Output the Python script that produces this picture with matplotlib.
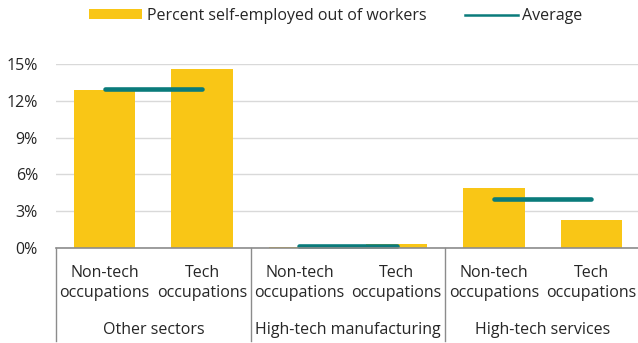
import matplotlib
matplotlib.use("Agg")
import matplotlib.pyplot as plt
from matplotlib.patches import Patch
from matplotlib.lines import Line2D
from matplotlib.transforms import blended_transform_factory

plt.rcParams['font.family'] = ['Open Sans', 'DejaVu Sans']

groups = ["Other sectors", "High-tech manufacturing", "High-tech services"]
occupations = ["Non-tech\noccupations", "Tech\noccupations"]
self_employed = [12.9, 14.6, 0.1, 0.3, 4.9, 2.3]   # percent, per group: non-tech, tech
averages = [13.0, 0.2, 4.0]
yticks = [0, 3, 6, 9, 12, 15]

YELLOW = "#F9C616"
TEAL = "#0A7B7B"
TEXT = "#262626"
GRID = "#D9D9D9"
AXIS = "#8C8C8C"
FS = 11.5

fig = plt.figure(figsize=(6.38, 3.43), dpi=100)
ax = fig.add_axes([56 / 638, 95 / 343, 584 / 638, 184 / 343])

x = list(range(len(self_employed)))
ax.bar(x, self_employed, width=0.63, color=YELLOW, zorder=2)

for g, avg in enumerate(averages):
    ax.plot([2 * g, 2 * g + 1], [avg, avg], color=TEAL, lw=3.3,
            solid_capstyle="round", zorder=3, clip_on=False)

ax.set_xlim(-0.5, len(self_employed) - 0.5)
ax.set_ylim(0, 15)
ax.set_yticks(yticks)
ax.set_yticklabels([f"{v}%" for v in yticks], fontsize=FS, color=TEXT)
ax.tick_params(axis="y", length=0, pad=13)
ax.set_xticks([])
ax.grid(axis="y", color=GRID, lw=1, zorder=0)
for s in ["left", "right", "top"]:
    ax.spines[s].set_visible(False)
ax.spines["bottom"].set_color(AXIS)
ax.spines["bottom"].set_linewidth(1.2)
ax.spines["bottom"].set_zorder(4)

tr = blended_transform_factory(ax.transData, fig.transFigure)
for i in x:
    ax.text(i, 1 - 283 / 343, occupations[i % 2], transform=tr, ha="center",
            va="center", fontsize=FS, color=TEXT, linespacing=1.3)
for g, name in enumerate(groups):
    ax.text(2 * g + 0.5, 1 - 330 / 343, name, transform=tr, ha="center",
            va="center", fontsize=FS, color=TEXT)
for b in [-0.5, 1.5, 3.5]:
    fig.add_artist(Line2D([b, b], [1 - 248 / 343, 1 - 341 / 343], transform=tr,
                          color=AXIS, lw=1.0))

handles = [Patch(facecolor=YELLOW, edgecolor="none"),
           Line2D([0], [0], color=TEAL, lw=1.8)]
fig.legend(handles, ["Percent self-employed out of workers", "Average"],
           loc="center", bbox_to_anchor=(336 / 638, 1 - 16 / 343), ncol=2,
           frameon=False, fontsize=FS, handlelength=3.3, handleheight=0.6,
           handletextpad=0.3, columnspacing=2.4, labelcolor=TEXT)

fig.savefig("out.png", dpi=100)
